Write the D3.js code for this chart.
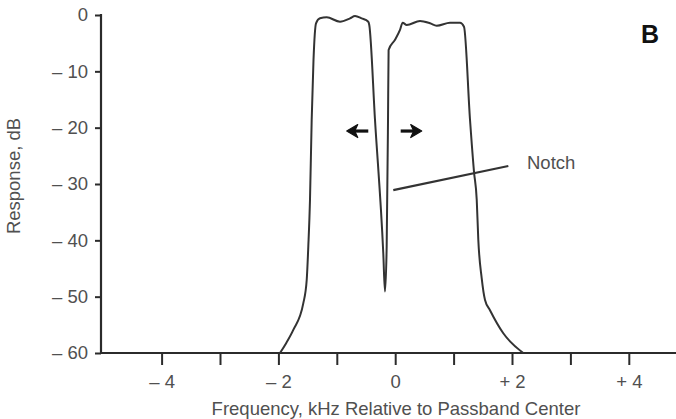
<!DOCTYPE html>
<html>
<head>
<meta charset="utf-8">
<script src="https://cdn.jsdelivr.net/npm/d3@7"></script>
<style>
  html, body { margin: 0; padding: 0; background: #fff; }
  svg { display: block; }
  text { font-family: "Liberation Sans", Arial, Helvetica, sans-serif; }
</style>
</head>
<body>
<svg id="chart" width="676" height="419"></svg>
<script>
// ---- data ----
const freqKHz = [-1.973, -1.870, -1.745, -1.574, -1.515, -1.488, -1.459, -1.430, -1.399, -1.356,
  -1.288, -1.173, -0.945, -0.774, -0.688, -0.574, -0.461, -0.444,
  -0.346, -0.204, -0.175, -0.146, -0.123, -0.113,
  -0.003, 0.082, 0.128, 0.197, 0.425, 0.596, 0.711, 0.938, 1.110, 1.178,
  1.281, 1.349, 1.396, 1.423, 1.481, 1.538, 1.623, 1.851, 2.193];
const responseDB = [-60, -58.3, -55.9, -51.2, -47.0, -41.1, -32.8, -18.6, -8.0, -1.47,
  -0.59, -0.41, -1.19, -0.59, -0.18, -0.59, -1.19, -1.78,
  -18.6, -42.3, -49.1, -41.1, -18.6, -6.2,
  -4.4, -2.66, -1.37, -1.78, -1.07, -1.47, -1.9, -1.37, -1.37, -2.08,
  -18.6, -27.8, -32.8, -39.9, -46.7, -50.6, -52.4, -56.5, -60];
const xTickValues = [-4, -3, -2, -1, 0, 1, 2, 3, 4];
const xTickLabels = {"-4": "\u2013 4", "-2": "\u2013 2", "0": "0", "2": "+ 2", "4": "+ 4"};
const yTickValues = [0, -10, -20, -30, -40, -50, -60];
const yTickLabels = ["0", "\u2013 10", "\u2013 20", "\u2013 30", "\u2013 40", "\u2013 50", "\u2013 60"];
const xTitle = "Frequency, kHz Relative to Passband Center";
const yTitle = "Response, dB";
const notchLine = [[-0.033, -31.1], [1.937, -26.8]];
const notchLabel = {f: 2.257, db: -27.3, text: "Notch"};
const arrowsData = [{from: -0.461, to: -0.830, db: -20.6}, {from: 0.094, to: 0.454, db: -20.6}];
const panelLabel = "B";

// ---- layout ----
const svg = d3.select("#chart");
const x = d3.scaleLinear().domain([-4, 4]).range([161.6, 628.8]);
const y = d3.scaleLinear().domain([0, -60]).range([15, 353]);
const axisX0 = 101;
const ink = "#2b2b2b";
const textCol = "#505050";
const fs = 18.5;

// x axis line
svg.append("line").attr("x1", axisX0).attr("x2", 676).attr("y1", y(-60)).attr("y2", y(-60))
  .attr("stroke", ink).attr("stroke-width", 2.2);
// y axis line
svg.append("line").attr("x1", axisX0).attr("x2", axisX0).attr("y1", y(0) - 1).attr("y2", y(-60) + 1)
  .attr("stroke", ink).attr("stroke-width", 2.2);

// x ticks via d3 axis
const xAxis = d3.axisBottom(x).tickValues(xTickValues).tickSize(12).tickPadding(10)
  .tickFormat(d => xTickLabels[String(d)] || "");
const gx = svg.append("g").attr("transform", `translate(0,${y(-60)})`).call(xAxis);
gx.select(".domain").remove();
gx.selectAll(".tick line").attr("stroke", ink).attr("stroke-width", 2);
gx.selectAll(".tick text").attr("fill", textCol).attr("font-size", fs)
  .attr("font-family", "'Liberation Sans', Arial, sans-serif");

// y ticks via d3 axis
const yAxis = d3.axisLeft(y).tickValues(yTickValues).tickSize(6).tickPadding(7)
  .tickFormat((d, i) => yTickLabels[i]);
const gy = svg.append("g").attr("transform", `translate(${axisX0},0)`).call(yAxis);
gy.select(".domain").remove();
gy.selectAll(".tick line").attr("stroke", ink).attr("stroke-width", 2);
gy.selectAll(".tick text").attr("fill", textCol).attr("font-size", fs)
  .attr("font-family", "'Liberation Sans', Arial, sans-serif");

// titles
svg.append("text").attr("x", 396).attr("y", 415).attr("text-anchor", "middle")
  .attr("font-size", fs).attr("fill", textCol).text(xTitle);
svg.append("text").attr("transform", "translate(20,176) rotate(-90)").attr("text-anchor", "middle")
  .attr("font-size", fs).attr("fill", textCol).text(yTitle);

// response curve
const pts = freqKHz.map((f, i) => [f, responseDB[i]]);
const line = d3.line().x(d => x(d[0])).y(d => y(d[1])).curve(d3.curveMonotoneX);
svg.append("path").datum(pts).attr("d", line).attr("fill", "none")
  .attr("stroke", "#333").attr("stroke-width", 2).attr("stroke-linejoin", "round");

// notch leader
svg.append("line").attr("x1", x(notchLine[0][0])).attr("y1", y(notchLine[0][1]))
  .attr("x2", x(notchLine[1][0])).attr("y2", y(notchLine[1][1]))
  .attr("stroke", "#333").attr("stroke-width", 2.2);
svg.append("text").attr("x", x(notchLabel.f)).attr("y", y(notchLabel.db))
  .attr("font-size", fs).attr("fill", textCol).text(notchLabel.text);

// arrows
arrowsData.forEach(a => {
  const x1 = x(a.from), x2 = x(a.to), yy = y(a.db);
  const dir = Math.sign(x2 - x1);
  svg.append("line").attr("x1", x1).attr("x2", x2 - dir * 6).attr("y1", yy).attr("y2", yy)
    .attr("stroke", "#111").attr("stroke-width", 3.2);
  svg.append("path")
    .attr("d", `M${x2},${yy} L${x2 - dir * 11},${yy - 6.5} L${x2 - dir * 8},${yy} L${x2 - dir * 11},${yy + 6.5} Z`)
    .attr("fill", "#111").attr("stroke", "#111").attr("stroke-width", 1.2).attr("stroke-linejoin", "round");
});

// panel label
svg.append("text").attr("x", 641).attr("y", 43).attr("font-size", 25).attr("font-weight", "bold")
  .attr("fill", "#111").text(panelLabel);
</script>
</body>
</html>
